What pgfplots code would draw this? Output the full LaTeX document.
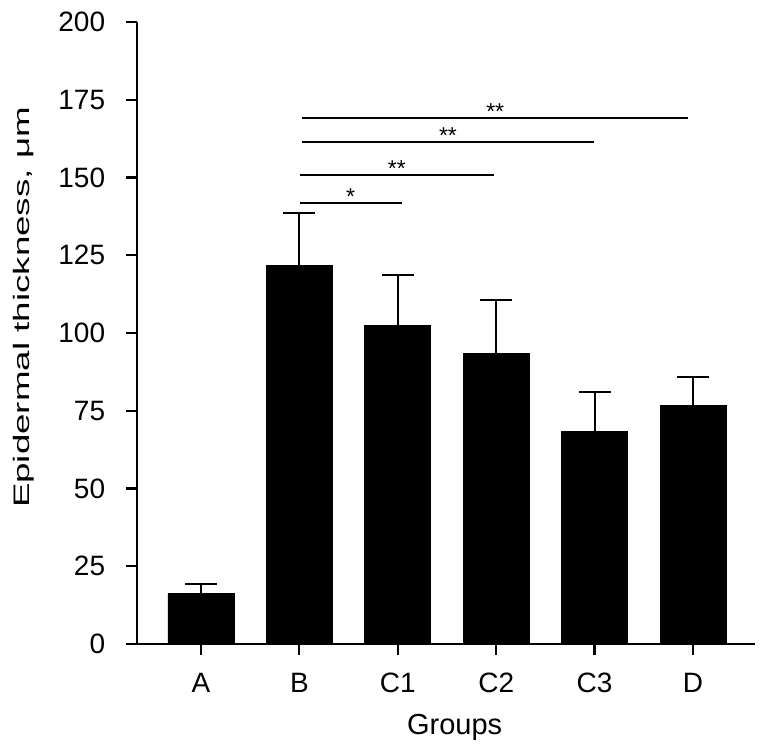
\documentclass[border=0pt]{standalone}
\usepackage{pgfplots}
\pgfplotsset{compat=1.18}
\usepackage{graphicx}
\usepackage{fontspec}
\setmainfont{Liberation Sans}
\begin{document}
\begin{tikzpicture}
\useasboundingbox (-68.5pt,-51.5pt) rectangle (312pt,322pt);
\begin{axis}[
  at={(0pt,0pt)}, anchor=south west,
  scale only axis, width=309pt, height=311pt,
  xmin=-0.65, xmax=5.63, ymin=0, ymax=200,
  axis x line*=bottom, axis y line*=left,
  axis line style={line width=1.1pt},
  xtick={0,1,2,3,4,5},
  xticklabels={A,B,C1,C2,C3,D},
  ytick={0,25,50,75,100,125,150,175,200},
  tick align=outside,
  major tick length=5.5pt,
  tick style={line width=1.1pt, black},
  /pgf/number format/assume math mode=true,
  tick label style={font=\fontsize{14}{16}\selectfont},
  xticklabel style={yshift=-5.5pt},
  yticklabel style={xshift=-6.9pt},
  xlabel={Groups},
  ylabel={\scalebox{1.64}[1]{Epidermal thickness, μm}},
  xlabel style={font=\fontsize{14.5}{16}\selectfont, at={(axis description cs:0.514,-0.134)}, anchor=center},
  ylabel style={font=\fontsize{11.2}{13}\selectfont, at={(axis description cs:-0.184,0.541)}, anchor=center},
  clip=false,
]
\addplot[ybar, bar width=33pt, fill=black, draw=black,
  error bars/.cd, y dir=plus, y explicit,
  error bar style={line width=1pt, black},
  error mark options={line width=1pt, mark size=8pt, rotate=90, black}]
  table[x=x, y=y, y error=e] {
x y e
0 16.3 3.1
1 121.8 16.9
2 102.5 16.0
3 93.5 17.0
4 68.4 12.6
5 76.8 9.0
};
\draw[line width=1pt] (axis cs:1.03,169.0) -- (axis cs:4.95,169.0);
\draw[line width=1pt] (axis cs:1.03,161.5) -- (axis cs:3.99,161.5);
\draw[line width=1pt] (axis cs:1.01,150.7) -- (axis cs:2.98,150.7);
\draw[line width=1pt] (axis cs:1.01,141.9) -- (axis cs:2.04,141.9);
\node[font=\fontsize{11.5}{13}\selectfont, anchor=south, inner sep=0pt, yshift=-1pt] at (axis cs:2.99,169.0) {**};
\node[font=\fontsize{11.5}{13}\selectfont, anchor=south, inner sep=0pt, yshift=-1pt] at (axis cs:2.51,161.5) {**};
\node[font=\fontsize{11.5}{13}\selectfont, anchor=south, inner sep=0pt, yshift=-1pt] at (axis cs:1.99,150.7) {**};
\node[font=\fontsize{11.5}{13}\selectfont, anchor=south, inner sep=0pt, yshift=-1pt] at (axis cs:1.52,141.9) {*};
\end{axis}
\end{tikzpicture}
\end{document}
